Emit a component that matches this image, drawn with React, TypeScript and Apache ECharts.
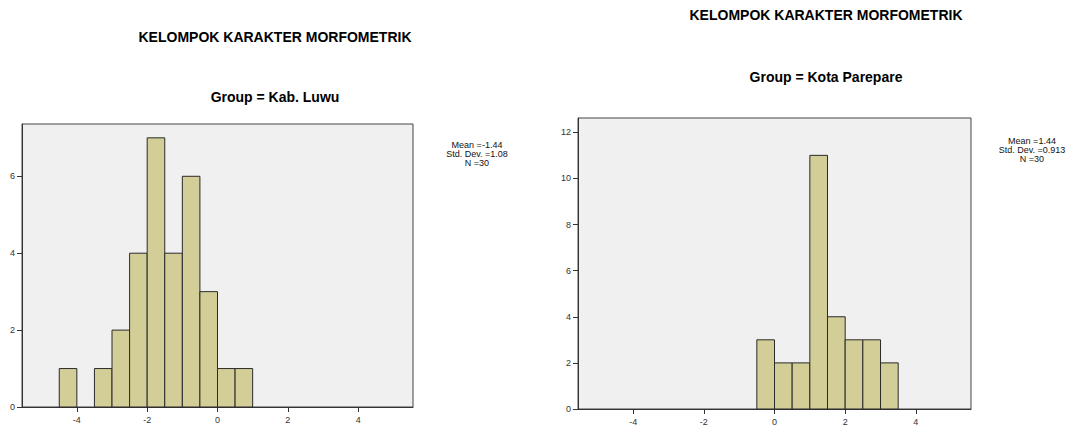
import React, { useEffect, useRef } from "react";
import * as echarts from "echarts";

const mainTitle = "KELOMPOK KARAKTER MORFOMETRIK";
const groupLuwu = "Group = Kab. Luwu";
const groupPare = "Group = Kota Parepare";

const binEdgesLuwu = [-4.5, -4, -3.5, -3, -2.5, -2, -1.5, -1, -0.5, 0, 0.5, 1];
const countsLuwu = [1, 0, 1, 2, 4, 7, 4, 6, 3, 1, 1];
const binEdgesPare = [-0.5, 0, 0.5, 1, 1.5, 2, 2.5, 3, 3.5];
const countsPare = [3, 2, 2, 11, 4, 3, 3, 2];

const xTicks = [-4, -2, 0, 2, 4];
const yTicksLuwu = [0, 2, 4, 6];
const yTicksPare = [0, 2, 4, 6, 8, 10, 12];

const statsLuwu = ["Mean =-1.44", "Std. Dev. =1.08", "N =30"];
const statsPare = ["Mean =1.44", "Std. Dev. =0.913", "N =30"];

const FONT = "'Liberation Sans', Arial, sans-serif";
const BAR_FILL = "#D3CE97";
const PLOT_BG = "#F0F0F0";

function binsToData(edges: number[], counts: number[]) {
  const out: number[][] = [];
  counts.forEach((c, i) => {
    if (c > 0) out.push([edges[i], edges[i + 1], c]);
  });
  return out;
}

const renderBin = (params: any, api: any) => {
  const x0 = api.value(0);
  const x1 = api.value(1);
  const c = api.value(2);
  const p0 = api.coord([x0, c]);
  const p1 = api.coord([x1, 0]);
  return {
    type: "rect",
    shape: { x: p0[0], y: p0[1], width: p1[0] - p0[0], height: p1[1] - p0[1] },
    style: { fill: BAR_FILL, stroke: "#2a2a2a", lineWidth: 1 },
  };
};

function xAxisFor(gridIndex: number) {
  return {
    type: "value",
    gridIndex,
    min: -5.56,
    max: 5.56,
    axisLine: { show: true, onZero: false, lineStyle: { color: "#333", width: 1 } },
    axisTick: { show: true, length: 5, lineStyle: { color: "#333" }, customValues: xTicks },
    axisLabel: { fontSize: 9, color: "#333", fontFamily: FONT, margin: 8, customValues: xTicks },
    splitLine: { show: false },
  };
}

function yAxisFor(gridIndex: number, max: number, ticks: number[]) {
  return {
    type: "value",
    gridIndex,
    min: 0,
    max,
    axisLine: { show: true, onZero: false, lineStyle: { color: "#333", width: 1 } },
    axisTick: { show: true, length: 5, lineStyle: { color: "#333" }, customValues: ticks },
    axisLabel: { fontSize: 9, color: "#333", fontFamily: FONT, margin: 7, customValues: ticks },
    splitLine: { show: false },
  };
}

function statsText(lines: string[], x: number, y: number) {
  return lines.map((t, i) => ({
    type: "text",
    x,
    y: y + i * 9,
    style: {
      text: t,
      fontSize: 9,
      fontFamily: FONT,
      fill: "#111",
      align: "center",
      verticalAlign: "middle",
    },
  }));
}

function titleText(t: string, x: number, y: number) {
  return {
    type: "text",
    x,
    y,
    style: {
      text: t,
      fontSize: 14,
      fontWeight: "bold",
      fontFamily: FONT,
      fill: "#000",
      align: "center",
      verticalAlign: "middle",
    },
  };
}

export default function App() {
  const ref = useRef<HTMLDivElement>(null);
  useEffect(() => {
    if (!ref.current) return;
    const chart = echarts.init(ref.current, null, { renderer: "svg" });
    chart.setOption({
      animation: false,
      backgroundColor: "#ffffff",
      grid: [
        {
          left: 22,
          top: 124,
          width: 391,
          height: 283,
          show: true,
          backgroundColor: PLOT_BG,
          borderColor: "#444",
          borderWidth: 1,
        },
        {
          left: 578,
          top: 118,
          width: 393,
          height: 291,
          show: true,
          backgroundColor: PLOT_BG,
          borderColor: "#444",
          borderWidth: 1,
        },
      ],
      xAxis: [xAxisFor(0), xAxisFor(1)],
      yAxis: [yAxisFor(0, 7.36, yTicksLuwu), yAxisFor(1, 12.62, yTicksPare)],
      series: [
        {
          type: "custom",
          xAxisIndex: 0,
          yAxisIndex: 0,
          renderItem: renderBin,
          encode: { x: [0, 1], y: 2 },
          data: binsToData(binEdgesLuwu, countsLuwu),
        },
        {
          type: "custom",
          xAxisIndex: 1,
          yAxisIndex: 1,
          renderItem: renderBin,
          encode: { x: [0, 1], y: 2 },
          data: binsToData(binEdgesPare, countsPare),
        },
      ],
      graphic: [
        titleText(mainTitle, 275, 37),
        titleText(groupLuwu, 275, 97),
        titleText(mainTitle, 826, 15),
        titleText(groupPare, 826, 77),
        ...statsText(statsLuwu, 477, 145),
        ...statsText(statsPare, 1032, 141),
      ],
    });
    return () => chart.dispose();
  }, []);
  return (
    <div
      ref={ref}
      style={{ position: "fixed", left: 0, top: 0, width: 1073, height: 428 }}
    />
  );
}
